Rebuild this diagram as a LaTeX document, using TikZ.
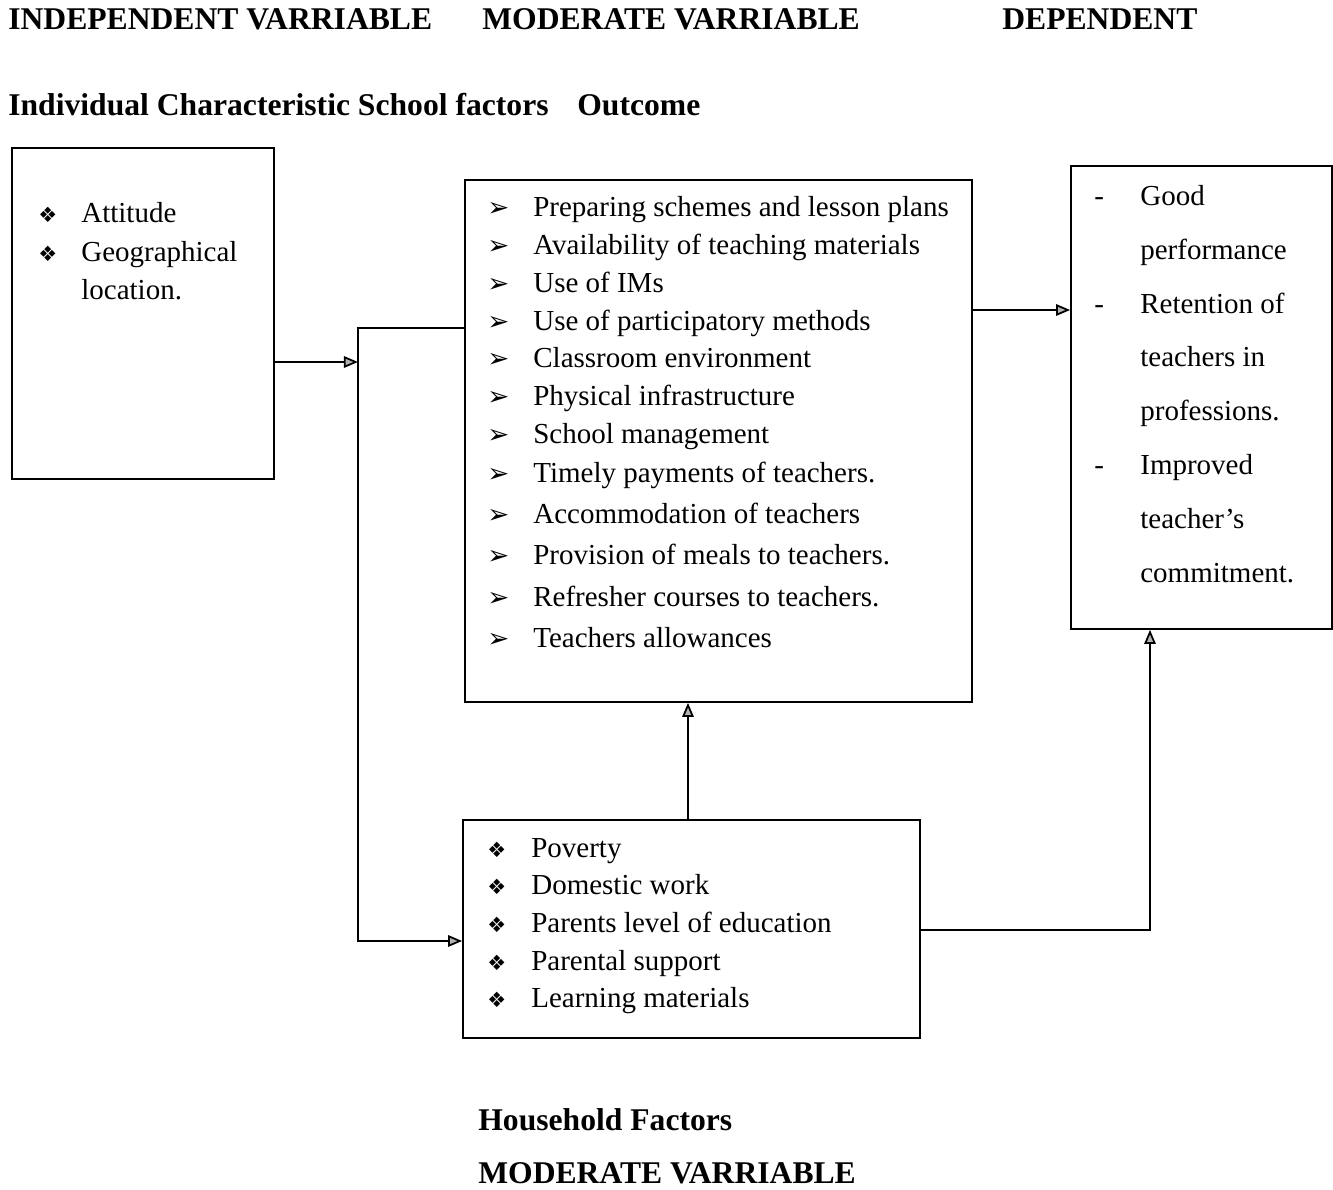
\documentclass[tikz,border=0pt]{standalone}
\usepackage{fontspec}
\setmainfont{Liberation Serif}
\newfontfamily\dingfont{DejaVu Sans}
\usepackage{tikz}
\usetikzlibrary{arrows.meta}

\begin{document}
\begin{tikzpicture}[x=0.02cm,y=-0.02cm,
  box/.style={draw,line width=1pt,inner sep=0pt},
  item/.style={anchor=base west,inner sep=0pt,font=\fontsize{16.5}{20}\selectfont},
  head/.style={anchor=base west,inner sep=0pt,font=\fontsize{18}{22}\selectfont\bfseries},
  bul/.style={anchor=base west,inner sep=0pt,font=\dingfont\fontsize{12}{14}\selectfont},
  tip/.style={anchor=base west,inner sep=0pt,font=\dingfont\fontsize{15}{18}\selectfont},
  arr/.style={line width=1pt,-{Triangle[length=8pt,width=6.5pt,fill=gray!60]}}]
\path[use as bounding box] (0,0) rectangle (1333,1190);
\fill[white] (0,0) rectangle (1333,1190);
% headings
\node[head] (h1) at (8,30) {INDEPENDENT VARRIABLE};
\node[head] (h2) at (482,30) {MODERATE VARRIABLE};
\node[head] (h3) at (1002,30) {DEPENDENT};
\node[head] (h4) at (8,115) {Individual Characteristic School factors};
\node[head] (h5) at (577,115) {Outcome};
\node[head] (h6) at (478,1130) {Household Factors};
\node[head] (h7) at (478,1183) {MODERATE VARRIABLE};
% boxes
\node[box,minimum width=5.24cm,minimum height=6.62cm] (indiv) at (143,313.5) {};
\node[box,minimum width=10.14cm,minimum height=10.44cm] (school) at (718.5,441) {};
\node[box,minimum width=5.22cm,minimum height=9.26cm] (outcome) at (1201.5,397.5) {};
\node[box,minimum width=9.14cm,minimum height=4.36cm] (house) at (691.5,929) {};
% individual characteristic
\node[bul] (i1b) at (38,222) {❖};
\node[item] (i1) at (81,222) {Attitude};
\node[bul] (i2b) at (38,261) {❖};
\node[item] (i2) at (81,261) {Geographical};
\node[item] (i3) at (81,299) {location.};
% school factors
\node[tip] (s1b) at (487,216) {➢};
\node[item] (s1) at (533,216) {Preparing schemes and lesson plans};
\node[tip] (s2b) at (487,254) {➢};
\node[item] (s2) at (533,254) {Availability of teaching materials};
\node[tip] (s3b) at (487,292) {➢};
\node[item] (s3) at (533,292) {Use of IMs};
\node[tip] (s4b) at (487,330) {➢};
\node[item] (s4) at (533,330) {Use of participatory methods};
\node[tip] (s5b) at (487,367) {➢};
\node[item] (s5) at (533,367) {Classroom environment};
\node[tip] (s6b) at (487,405) {➢};
\node[item] (s6) at (533,405) {Physical infrastructure};
\node[tip] (s7b) at (487,443) {➢};
\node[item] (s7) at (533,443) {School management};
\node[tip] (s8b) at (487,482) {➢};
\node[item] (s8) at (533,482) {Timely payments of teachers.};
\node[tip] (s9b) at (487,523) {➢};
\node[item] (s9) at (533,523) {Accommodation of teachers};
\node[tip] (s10b) at (487,564) {➢};
\node[item] (s10) at (533,564) {Provision of meals to teachers.};
\node[tip] (s11b) at (487,606) {➢};
\node[item] (s11) at (533,606) {Refresher courses to teachers.};
\node[tip] (s12b) at (487,647) {➢};
\node[item] (s12) at (533,647) {Teachers allowances};
% outcome
\node[item] (o1b) at (1094,205) {-};
\node[item] (o1) at (1140,205) {Good};
\node[item] (o2) at (1140,259) {performance};
\node[item] (o3b) at (1094,313) {-};
\node[item] (o3) at (1140,313) {Retention of};
\node[item] (o4) at (1140,366) {teachers in};
\node[item] (o5) at (1140,420) {professions.};
\node[item] (o6b) at (1094,474) {-};
\node[item] (o6) at (1140,474) {Improved};
\node[item] (o7) at (1140,528) {teacher’s};
\node[item] (o8) at (1140,582) {commitment.};
% household factors
\node[bul] (f1b) at (487,857) {❖};
\node[item] (f1) at (531,857) {Poverty};
\node[bul] (f2b) at (487,894) {❖};
\node[item] (f2) at (531,894) {Domestic work};
\node[bul] (f3b) at (487,932) {❖};
\node[item] (f3) at (531,932) {Parents level of education};
\node[bul] (f4b) at (487,970) {❖};
\node[item] (f4) at (531,970) {Parental support};
\node[bul] (f5b) at (487,1007) {❖};
\node[item] (f5) at (531,1007) {Learning materials};
% connectors
\coordinate (busin) at (358,362);
\coordinate (bustop) at (358,328);
\coordinate (busbot) at (358,941);
\coordinate (outin) at (1071,310);
\coordinate (upline) at (688,760);
\coordinate (corner) at (1150,930);
\draw[arr] (indiv.east |- busin) -- (busin);
\draw[arr] (bustop -| school.west) -- (bustop) -- (busbot) -- (busbot -| house.west);
\draw[arr] (school.east |- outin) -- (outcome.west |- outin);
\draw[arr] (upline |- house.north) -- (upline |- school.south);
\draw[arr] (house.east |- corner) -- (corner) -- (corner |- outcome.south);
\end{tikzpicture}
\end{document}
